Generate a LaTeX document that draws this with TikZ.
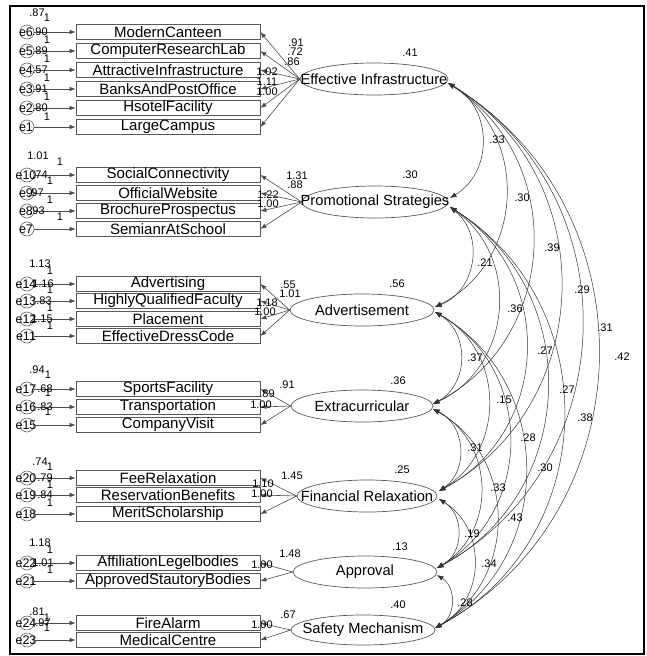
\documentclass[tikz,border=0pt]{standalone}
\usepackage{fontspec}
\setmainfont{Liberation Sans}
\usetikzlibrary{shapes.geometric,arrows.meta}
\newcommand\mkind[4]{%
  \node[obs] (b#1) at (168,#2) {#3};
  \node[err] (c#1) at (27,#2) {};
  \node[elab] (t#1) at (26,#2) {#4};
  \draw[arr] (c#1) -- (b#1);}
\begin{document}
\begin{tikzpicture}[x=1pt,y=-1pt,
 obs/.style={draw=black!65,line width=0.8pt,minimum width=184pt,minimum height=15pt,inner sep=0pt,font=\fontsize{15}{15}\selectfont},
 err/.style={circle,draw=black!60,line width=0.6pt,minimum size=14pt,inner sep=0pt},
 elab/.style={font=\fontsize{12.5}{13}\selectfont,inner sep=0pt},
 num/.style={font=\fontsize{11}{12}\selectfont,inner sep=0pt},
 lat/.style={ellipse,draw=black!65,line width=0.7pt,inner sep=0pt},
 ltext/.style={font=\fontsize{14.7}{15}\selectfont,inner sep=0pt},
 arr/.style={draw=black!70,line width=0.6pt,-{Latex[length=6pt,width=4.5pt]}},
 cov/.style={draw=black!80,line width=0.5pt,{Latex[length=6.5pt,width=5pt]}-{Latex[length=6.5pt,width=5pt]}},
 bnd/.style={bend left=60,looseness=1.13}]
\useasboundingbox (0,0) rectangle (647,656);
\draw[line width=1.8pt] (10,6) rectangle (644,654);

% ---------- Effective Infrastructure ----------
\mkind{mc}{32}{ModernCanteen}{e6}
\mkind{cr}{51}{ComputerResearchLab}{e5}
\mkind{ai}{70}{AttractiveInfrastructure}{e4}
\mkind{bp}{89}{BanksAndPostOffice}{e3}
\mkind{hf}{108}{HsotelFacility}{e2}
\mkind{lc}{127}{LargeCampus}{e1}
\node[lat,minimum width=148pt,minimum height=32pt] (EI) at (374,79) {};
\node[ltext] at (EI) {Effective Infrastructure};
\foreach \b in {mc,cr,ai,bp,hf,lc} \draw[arr] (EI.west) -- (b\b.east);
\node[num] at (37,13) {.87};
\node[num] at (40,32) {.90};
\node[num] at (40,51) {.89};
\node[num] at (40,70) {.57};
\node[num] at (40,89) {.91};
\node[num] at (40,108) {.80};
\foreach \y in {18,40,59,78,97,117} \node[num] at (47,\y) {1};
\node[num] at (296,43) {.91};
\node[num] at (295,52) {.72};
\node[num] at (292,62) {.86};
\node[num] at (267,72) {1.02};
\node[num] at (267,82) {1.11};
\node[num] at (267,92) {1.00};
\node[num] at (410,53) {.41};

% ---------- Promotional Strategies ----------
\mkind{sc}{175}{SocialConnectivity}{e10}
\mkind{ow}{193}{OfficialWebsite}{e9}
\mkind{br}{211}{BrochureProspectus}{e8}
\mkind{ss}{229}{SemianrAtSchool}{e7}
\node[lat,minimum width=146pt,minimum height=32pt] (PS) at (375,202) {};
\node[ltext] at (PS) {Promotional Strategies};
\foreach \b in {sc,ow,br,ss} \draw[arr] (PS.west) -- (b\b.east);
\node[num] at (38,156) {1.01};
\node[num] at (40,175) {.74};
\node[num] at (36,193) {.97};
\node[num] at (37,211) {.93};
\node[num] at (60,162) {1};
\node[num] at (50,181) {1};
\node[num] at (50,200) {1};
\node[num] at (60,217) {1};
\node[num] at (297,176) {1.31};
\node[num] at (295,185) {.88};
\node[num] at (268,195) {1.22};
\node[num] at (268,204) {1.00};
\node[num] at (410,175) {.30};

% ---------- Advertisement ----------
\mkind{ad}{284}{Advertising}{e14}
\mkind{hq}{301}{HighlyQualifiedFaculty}{e13}
\mkind{pl}{319}{Placement}{e12}
\mkind{ed}{336}{EffectiveDressCode}{e11}
\node[lat,minimum width=144pt,minimum height=32pt] (AD) at (362,310) {};
\node[ltext] at (AD) {Advertisement};
\foreach \b in {ad,hq,pl,ed} \draw[arr] (AD.west) -- (b\b.east);
\node[num] at (40,264) {1.13};
\node[num] at (43,284) {1.16};
\node[num] at (44,301) {.83};
\node[num] at (42,319) {1.15};
\foreach \y in {271,290,308,326} \node[num] at (50,\y) {1};
\node[num] at (288,285) {.55};
\node[num] at (290,294) {1.01};
\node[num] at (267,303) {1.18};
\node[num] at (265,312) {1.00};
\node[num] at (397,284) {.56};

% ---------- Extracurricular ----------
\mkind{sf}{389}{SportsFacility}{e17}
\mkind{tr}{407}{Transportation}{e16}
\mkind{cv}{425}{CompanyVisit}{e15}
\node[lat,minimum width=142pt,minimum height=32pt] (EX) at (362,406) {};
\node[ltext] at (EX) {Extracurricular};
\foreach \b in {sf,tr,cv} \draw[arr] (EX.west) -- (b\b.east);
\node[num] at (37,370) {.94};
\node[num] at (45,389) {.68};
\node[num] at (45,407) {.83};
\foreach \y in {375,393,412} \node[num] at (48,\y) {1};
\node[num] at (287,385) {.91};
\node[num] at (267,394) {.89};
\node[num] at (261,405) {1.00};
\node[num] at (398,381) {.36};

% ---------- Financial Relaxation ----------
\mkind{fr}{478}{FeeRelaxation}{e20}
\mkind{rb}{495}{ReservationBenefits}{e19}
\mkind{ms}{514}{MeritScholarship}{e18}
\node[lat,minimum width=140pt,minimum height=32pt] (FR) at (367,496) {};
\node[ltext] at (FR) {Financial Relaxation};
\foreach \b in {fr,rb,ms} \draw[arr] (FR.west) -- (b\b.east);
\node[num] at (40,462) {.74};
\node[num] at (45,478) {.79};
\node[num] at (45,495) {.84};
\foreach \y in {467,485,503} \node[num] at (50,\y) {1};
\node[num] at (292,476) {1.45};
\node[num] at (263,484) {1.10};
\node[num] at (262,494) {1.00};
\node[num] at (402,470) {.25};

% ---------- Approval ----------
\mkind{al}{563}{AffiliationLegelbodies}{e22}
\mkind{as}{581}{ApprovedStautoryBodies}{e21}
\node[lat,minimum width=144pt,minimum height=32pt] (AP) at (365,572) {};
\node[ltext] at (AP) {Approval};
\foreach \b in {al,as} \draw[arr] (AP.west) -- (b\b.east);
\node[num] at (40,543) {1.18};
\node[num] at (43,563) {1.01};
\foreach \y in {550,570} \node[num] at (50,\y) {1};
\node[num] at (290,554) {1.48};
\node[num] at (262,565) {1.00};
\node[num] at (400,547) {.13};

% ---------- Safety Mechanism ----------
\mkind{fa}{623}{FireAlarm}{e24}
\mkind{md}{640}{MedicalCentre}{e23}
\node[lat,minimum width=144pt,minimum height=30pt] (SM) at (363,630) {};
\node[ltext] at (SM) {Safety Mechanism};
\foreach \b in {fa,md} \draw[arr] (SM.west) -- (b\b.east);
\node[num] at (37,612) {.81};
\node[num] at (43,623) {.97};
\node[num] at (47,618) {1};
\node[num] at (47,628) {1};
\node[num] at (288,615) {.67};
\node[num] at (262,625) {1.00};
\node[num] at (398,605) {.40};

% ---------- covariance anchors ----------
\coordinate (EIb) at (448,83);
\coordinate (PSt) at (450,198); \coordinate (PSb) at (450,207);
\coordinate (ADt) at (435,307); \coordinate (ADb) at (435,312);
\coordinate (EXt) at (433,404); \coordinate (EXb) at (433,409);
\coordinate (FRt) at (439,491); \coordinate (FRb) at (439,499);
\coordinate (APt) at (437,568); \coordinate (APb) at (437,575);
\coordinate (SMt) at (435,628);

\draw[cov] (EIb) to[bnd] (PSt);
\draw[cov] (EIb) to[bnd] (ADt);
\draw[cov] (EIb) to[bnd] (EXt);
\draw[cov] (EIb) to[bnd] (FRt);
\draw[cov] (EIb) to[bnd] (APt);
\draw[cov] (EIb) to[bnd] (SMt);
\draw[cov] (PSb) to[bnd] (ADt);
\draw[cov] (PSb) to[bnd] (EXt);
\draw[cov] (PSb) to[bnd] (FRt);
\draw[cov] (PSb) to[bnd] (APt);
\draw[cov] (PSb) to[bnd] (SMt);
\draw[cov] (ADb) to[bnd] (EXt);
\draw[cov] (ADb) to[bnd] (FRt);
\draw[cov] (ADb) to[bnd] (APt);
\draw[cov] (ADb) to[bnd] (SMt);
\draw[cov] (EXb) to[bnd] (FRt);
\draw[cov] (EXb) to[bnd] (APt);
\draw[cov] (EXb) to[bnd] (SMt);
\draw[cov] (FRb) to[bnd] (APt);
\draw[cov] (FRb) to[bnd] (SMt);
\draw[cov] (APb) to[bnd] (SMt);

\node[num] at (497,140) {.33};
\node[num] at (522,198) {.30};
\node[num] at (552,248) {.39};
\node[num] at (582,290) {.29};
\node[num] at (605,328) {.31};
\node[num] at (622,357) {.42};
\node[num] at (485,263) {.21};
\node[num] at (515,309) {.36};
\node[num] at (545,351) {.27};
\node[num] at (567,390) {.27};
\node[num] at (585,418) {.38};
\node[num] at (475,358) {.37};
\node[num] at (504,400) {.15};
\node[num] at (528,438) {.28};
\node[num] at (545,468) {.30};
\node[num] at (475,448) {.31};
\node[num] at (498,488) {.33};
\node[num] at (515,518) {.43};
\node[num] at (472,534) {.19};
\node[num] at (489,564) {.34};
\node[num] at (465,603) {.28};
\end{tikzpicture}
\end{document}
